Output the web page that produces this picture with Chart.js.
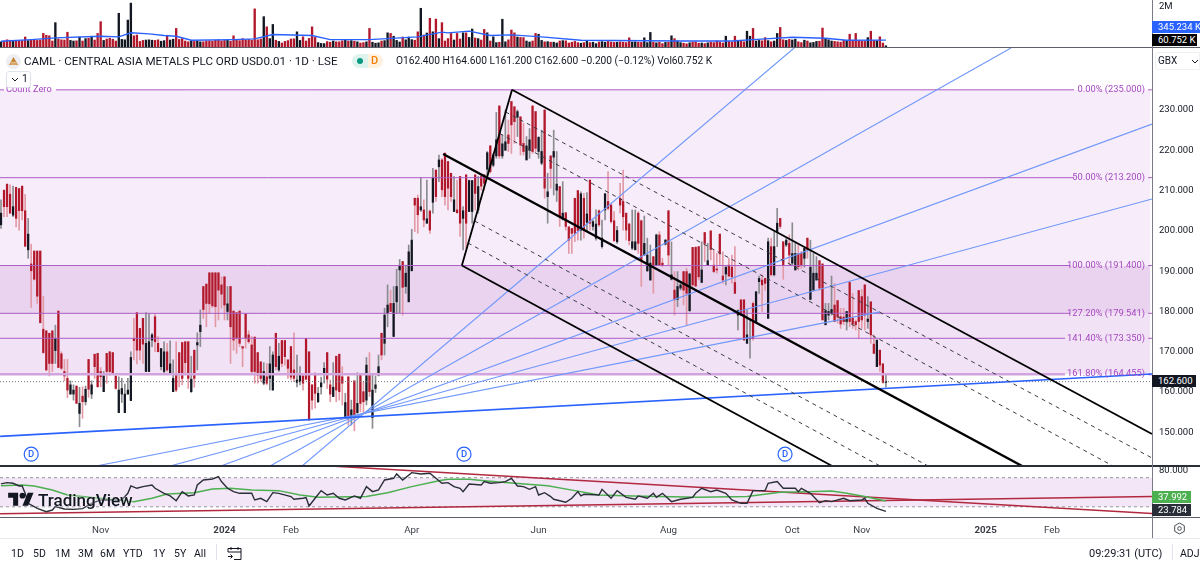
<!DOCTYPE html>
<html>
<head>
<meta charset="utf-8">
<script src="https://cdn.jsdelivr.net/npm/chart.js@4"></script>
<style>
  html, body { margin: 0; padding: 0; background: #fff; }
  #page { position: relative; width: 1200px; height: 561px; overflow: hidden; font-family: Roboto, sans-serif; color: #131722; }
  canvas { position: absolute; left: 0; }
  #volumeChart { top: 0; }
  #priceChart { top: 48px; }
  #rsiChart { top: 466px; }
  .txt { position: absolute; white-space: nowrap; line-height: 14px; }
  .rule { position: absolute; }
  .chip { position: absolute; left: 1152px; height: 12px; line-height: 12px; font-size: 9.5px; color: #fff; padding-left: 6px; box-sizing: border-box; white-space: nowrap; }
  svg { position: absolute; overflow: visible; }
</style>
</head>
<body>
<div id="page">
  <canvas id="volumeChart" width="1200" height="47"></canvas>
  <canvas id="priceChart" width="1200" height="418"></canvas>
  <canvas id="rsiChart" width="1200" height="72"></canvas>

  <div class="rule" style="left:0;top:47px;width:1200px;height:1px;background:#5d606b"></div>
  <div class="rule" style="left:0;top:465px;width:1200px;height:2px;background:#2a2e39"></div>
  <div class="rule" style="left:0;top:517px;width:1200px;height:1px;background:#5d606b"></div>
  <div class="rule" style="left:0;top:538px;width:1200px;height:1px;background:#e8e9ee"></div>
  <div class="rule" style="left:1152px;top:0;width:1px;height:538px;background:#787b86"></div>
  <div class="rule" style="left:216px;top:544px;width:1px;height:16px;background:#e0e3eb"></div>
  <div class="rule" style="left:1172px;top:544px;width:1px;height:16px;background:#e0e3eb"></div>

  <svg style="left:6px;top:54px" width="15" height="15" viewBox="0 0 15 15">
    <circle cx="7.5" cy="7.5" r="7.5" fill="#eceef2"/>
    <path d="M7.5 3 L12 11 H3 Z" fill="#c8822f"/>
    <path d="M5.2 8.4 H9.8 M4.2 10 H10.8" stroke="#f4e6d2" stroke-width="0.7"/>
  </svg>
  <div class="txt" style="left:24px;top:54px;font-size:11.6px">CAML · CENTRAL ASIA METALS PLC ORD USD0.01 · 1D · LSE</div>
  <div class="rule" style="left:352px;top:54px;width:16px;height:14px;border-radius:7px 0 0 7px;background:#dff3ee"></div>
  <div class="rule" style="left:368px;top:54px;width:15px;height:14px;border-radius:0 7px 7px 0;background:#fff1e0"></div>
  <div class="rule" style="left:357px;top:58px;width:6px;height:6px;border-radius:3px;background:#089981"></div>
  <div class="txt" style="left:371px;top:54px;font-size:11px;font-weight:500;color:#f57c00">D</div>
  <div class="txt" id="ohlcText" style="left:396px;top:54px;font-size:10.2px"></div>

  <div class="rule" style="left:6px;top:71px;width:25px;height:17px;box-sizing:border-box;border:1px solid #e0e3eb;border-radius:3px;background:#fff"></div>
  <svg style="left:11px;top:77px" width="8" height="5"><path d="M1 1 L4 4 L7 1" fill="none" stroke="#131722" stroke-width="1"/></svg>
  <div class="txt" style="left:22px;top:72px;font-size:10.5px">1</div>

  <div class="rule" style="left:1155px;top:52px;width:45px;height:18px;box-sizing:border-box;border:1px solid #eef0f3;border-radius:3px 0 0 3px"></div>
  <div class="txt" style="left:1158px;top:54px;font-size:10px">GBX</div>
  <svg style="left:1191px;top:59px" width="8" height="5"><path d="M1 1 L4 4 L7 1" fill="none" stroke="#131722" stroke-width="1"/></svg>

  <div class="chip" id="volMaChip" style="top:21px;width:48px;background:#2962ff"></div>
  <div class="chip" id="volChip" style="top:34px;width:45px;background:#000"></div>
  <div class="chip" id="closeChip" style="top:375px;width:44px;background:#131722"></div>
  <div class="chip" id="rsiMaChip" style="top:491px;width:39px;background:#4caf50"></div>
  <div class="chip" id="rsiChip" style="top:504px;width:39px;background:#2a2e39"></div>

  <svg style="left:8px;top:490px" width="26" height="20" viewBox="0 0 36 28">
    <path d="M14 22H7V11H0V4h14v18zM28 22h-8l7.5-18h8L28 22z" fill="#131722"/>
    <circle cx="20" cy="8" r="4" fill="#131722"/>
  </svg>
  <div class="txt" style="left:38px;top:491px;line-height:18px;font-size:17px;font-weight:500;text-shadow:0 0 3px #fff">TradingView</div>

  <div class="txt" style="left:11px;top:547px;font-size:10.5px">1D</div>
  <div class="txt" style="left:33px;top:547px;font-size:10.5px">5D</div>
  <div class="txt" style="left:55px;top:547px;font-size:10.5px">1M</div>
  <div class="txt" style="left:78px;top:547px;font-size:10.5px">3M</div>
  <div class="txt" style="left:100px;top:547px;font-size:10.5px">6M</div>
  <div class="txt" style="left:123px;top:547px;font-size:10.5px">YTD</div>
  <div class="txt" style="left:153px;top:547px;font-size:10.5px">1Y</div>
  <div class="txt" style="left:174px;top:547px;font-size:10.5px">5Y</div>
  <div class="txt" style="left:194px;top:547px;font-size:10.5px">All</div>
  <svg style="left:227px;top:546px" width="15" height="15" viewBox="0 0 15 15" fill="none" stroke="#131722" stroke-width="1">
    <path d="M1 6 V2.5 H14 V13.5 H7 M1 6 H14 M4 1 V4 M11 1 V4 M1 10.5 H5 M3.5 8.5 L5.5 10.5 L3.5 12.5"/>
  </svg>
  <div class="txt" style="left:1089px;top:547px;font-size:11px">09:29:31 (UTC)</div>
  <div class="txt" style="left:1180px;top:547px;font-size:10.5px">ADJ</div>
  <svg style="left:1173px;top:522px" width="13" height="13" viewBox="0 0 13 13" fill="none" stroke="#4a4d57" stroke-width="1">
    <path d="M6.5 1 L11.3 3.7 V9.3 L6.5 12 L1.7 9.3 V3.7 Z"/><circle cx="6.5" cy="6.5" r="1.8"/>
  </svg>
</div>

<script>
// CAML daily candles, one entry per trading day
const opens = [
  201.5,210.1,211.6,209.1,203.9,210.8,210.5,211.1,205.0,195.3,
  191.8,195.0,195.0,195.0,175.6,175.2,174.6,175.2,170.3,180.1,
  169.5,165.1,163.4,159.5,159.5,161.5,154.7,159.0,157.6,168.1,
  159.5,169.4,169.6,165.1,160.1,169.6,170.0,169.8,164.0,154.9,
  159.5,154.9,159.5,157.9,173.3,179.7,175.8,178.3,165.1,165.1,
  172.9,178.7,172.1,166.3,165.1,170.0,164.8,160.1,164.2,169.8,
  172.3,172.5,172.5,160.1,170.4,171.7,175.0,186.2,186.8,189.6,
  189.6,189.6,189.6,186.6,188.6,180.0,186.2,180.1,179.7,180.1,
  171.3,179.4,174.2,171.7,173.6,169.8,167.5,162.2,163.8,163.4,
  160.5,174.6,165.5,172.8,172.8,168.0,171.3,165.5,162.4,162.6,
  164.0,173.3,170.0,161.8,164.7,157.6,161.3,164.7,169.8,161.8,
  158.9,168.9,169.4,163.8,153.5,163.8,153.7,162.8,154.9,164.2,
  160.1,158.0,164.2,153.7,160.9,164.2,174.6,172.1,179.5,182.0,
  173.8,182.4,190.3,192.4,186.2,182.4,190.1,208.1,208.1,205.2,
  205.2,201.9,204.9,207.1,215.1,215.9,217.6,219.3,217.2,214.3,
  204.8,205.2,213.5,203.1,213.9,204.8,204.8,213.9,205.2,213.5,
  213.9,215.3,221.1,216.3,218.6,231.0,218.6,220.0,223.8,232.1,
  230.8,228.2,228.3,221.7,217.6,220.0,231.0,229.6,219.7,216.8,
  230.0,208.5,218.6,218.3,210.1,211.0,202.9,204.5,201.0,200.6,
  208.1,210.0,200.2,208.1,202.1,212.6,201.1,198.2,205.0,196.1,
  205.2,207.3,206.4,202.5,197.3,208.1,207.3,204.4,201.7,195.7,
  195.3,204.4,202.5,194.0,190.1,187.8,193.6,191.5,199.0,192.0,
  196.7,205.0,188.0,185.3,183.0,185.8,189.9,189.9,180.2,195.9,
  195.9,196.1,187.2,199.6,191.5,200.0,191.5,190.5,199.2,188.8,
  189.3,191.5,191.0,187.2,179.1,182.9,182.9,172.1,173.2,182.0,
  177.5,187.4,187.8,188.2,178.3,196.1,189.1,199.8,203.1,197.3,
  196.5,196.9,192.0,190.3,194.3,194.4,193.2,198.2,183.0,185.3,
  187.8,192.6,191.8,176.7,179.1,179.6,181.6,182.7,178.7,178.6,
  177.5,187.2,178.3,177.5,185.2,183.7,186.6,177.5,182.4,171.9,
  166.3,170.4,167.0,162.4
];
const highs = [
  207.7,210.1,211.6,211.4,211.1,210.8,210.5,211.1,209.1,203.1,
  196.7,195.0,195.0,195.0,183.8,175.2,174.6,175.2,176.6,180.1,
  170.0,168.1,168.1,162.8,161.8,161.5,161.2,161.3,161.5,168.1,
  162.8,169.4,169.6,166.1,165.1,169.6,170.0,169.8,164.0,163.8,
  163.4,162.0,163.4,170.0,178.3,179.7,175.8,178.3,179.7,179.5,
  174.6,179.4,173.8,170.8,172.5,172.1,172.7,168.0,172.5,169.8,
  172.3,172.5,172.5,168.9,170.4,174.7,180.4,186.2,186.8,189.6,
  189.6,189.6,189.6,188.6,188.6,186.2,186.2,180.1,179.7,180.1,
  171.3,179.4,175.2,173.8,173.8,169.8,167.5,167.3,167.1,171.3,
  170.0,174.6,172.1,172.8,172.8,168.0,171.3,174.7,169.2,166.3,
  164.2,173.3,170.0,161.8,164.7,161.2,163.7,167.3,169.8,163.0,
  167.3,168.9,169.4,166.3,159.7,163.8,158.0,162.8,164.8,164.2,
  162.6,168.6,169.8,164.2,164.0,169.2,174.6,180.8,186.6,185.3,
  186.2,190.5,192.9,192.4,191.5,196.5,200.4,208.1,208.9,213.2,
  207.7,212.6,205.2,215.5,215.1,218.8,218.0,219.3,217.2,214.3,
  213.5,212.6,213.5,206.0,213.9,212.6,212.5,213.9,213.5,213.9,
  214.0,219.7,221.1,219.2,229.4,231.0,223.8,230.0,227.5,232.1,
  230.8,230.0,228.3,226.7,223.4,225.4,231.0,229.6,223.4,225.0,
  230.0,214.3,218.6,225.0,219.7,211.0,212.2,204.5,201.0,200.6,
  208.1,210.0,209.7,209.3,209.5,212.6,202.7,205.2,205.2,202.7,
  209.3,214.7,206.8,204.8,201.1,211.8,215.1,204.4,201.9,205.2,
  205.2,204.8,202.7,203.7,198.2,196.5,193.6,199.2,199.8,193.2,
  197.9,205.0,197.3,189.9,189.9,187.4,189.9,190.7,189.5,195.9,
  196.1,196.1,197.3,199.6,196.9,200.0,195.4,194.4,199.2,194.8,
  191.1,193.2,194.0,196.1,180.4,182.9,182.9,180.4,178.1,182.4,
  184.9,188.8,189.1,188.2,198.2,198.2,199.8,205.6,203.1,197.3,
  198.2,199.0,202.0,196.9,196.9,194.9,195.7,198.2,197.7,194.4,
  193.6,192.6,191.8,182.0,182.0,188.8,187.0,182.7,180.8,180.8,
  180.0,187.4,184.5,177.9,185.2,185.5,186.6,183.7,182.4,174.2,
  172.9,170.4,167.1,164.6
];
const lows = [
  200.6,203.5,203.5,204.4,203.5,201.0,200.2,202.7,196.1,193.2,
  181.0,187.8,182.0,177.2,169.6,165.3,164.0,165.1,167.1,166.1,
  165.5,162.8,158.6,159.5,158.0,157.2,151.4,153.5,156.8,158.7,
  158.4,163.4,161.3,161.3,160.1,162.2,164.2,164.5,160.7,154.9,
  157.4,154.9,159.5,157.9,168.0,167.0,168.0,167.1,165.1,165.1,
  171.3,170.0,170.0,165.5,164.8,165.1,164.8,160.1,160.1,161.3,
  161.8,164.7,160.9,159.9,161.2,165.5,171.3,178.3,176.2,179.5,
  181.0,176.2,177.9,180.8,177.9,177.9,167.1,170.4,169.6,171.3,
  166.3,170.9,172.1,164.5,162.2,162.2,162.6,161.8,161.8,160.5,
  160.5,165.5,165.1,166.3,166.7,163.4,163.0,162.6,161.3,161.8,
  160.5,163.0,152.9,155.7,156.0,157.4,159.5,162.2,160.9,157.6,
  158.9,157.6,158.0,156.8,153.5,151.8,151.8,150.4,154.7,155.1,
  154.7,156.8,158.9,151.0,159.9,164.0,168.0,169.2,176.2,180.0,
  173.8,179.5,179.7,179.1,184.5,182.4,190.1,199.8,199.4,204.8,
  201.0,201.9,199.4,204.4,207.3,212.2,208.5,206.4,205.2,207.3,
  204.8,204.4,198.6,195.3,195.7,204.8,201.9,205.2,204.4,210.1,
  210.1,213.5,214.3,215.9,218.0,218.0,218.0,220.0,219.7,219.2,
  221.7,223.4,218.8,218.8,217.6,218.0,219.2,219.7,218.0,216.4,
  208.1,201.9,210.6,208.9,207.3,201.1,202.7,200.2,194.4,194.4,
  197.3,197.7,197.7,198.2,199.8,200.2,200.2,197.7,201.1,195.7,
  202.7,205.2,201.9,197.3,196.9,204.4,200.2,197.7,196.5,195.3,
  195.3,194.4,186.2,194.0,189.9,187.8,184.5,191.5,191.5,191.1,
  196.5,191.5,187.8,179.1,181.2,185.3,181.6,176.7,180.0,186.2,
  186.3,187.8,187.2,192.4,191.5,192.8,189.6,189.5,191.5,187.0,
  186.6,188.6,187.0,184.5,175.4,179.1,172.9,172.1,168.4,172.9,
  177.5,184.5,180.0,185.3,178.3,188.8,188.8,196.1,200.6,188.0,
  196.1,191.5,191.5,190.3,190.3,190.7,191.0,193.2,182.9,185.3,
  187.8,185.3,177.9,176.7,177.9,179.1,177.5,177.1,175.8,176.7,
  175.4,176.2,175.8,175.4,173.3,175.8,175.4,175.8,172.1,169.6,
  166.3,165.1,162.2,161.2
];
const closes = [
  204.4,206.0,206.0,204.4,206.0,203.1,205.0,205.0,196.2,199.2,
  190.1,188.0,183.8,177.2,169.8,165.5,167.1,167.1,173.3,166.1,
  165.9,164.0,160.5,161.8,160.5,157.2,157.2,157.6,160.7,160.7,
  161.8,166.3,161.3,163.8,164.0,165.1,165.1,164.5,160.9,160.5,
  160.9,159.5,160.5,168.6,172.8,170.4,170.4,171.9,172.1,172.5,
  174.2,172.5,170.0,170.8,170.0,165.5,167.0,163.4,160.5,164.5,
  163.4,167.3,163.4,163.2,163.4,172.3,176.6,180.5,182.0,181.9,
  181.4,181.2,185.3,184.3,181.6,181.9,176.2,172.9,173.3,172.1,
  170.9,173.3,172.5,165.1,165.1,164.2,163.4,165.1,162.2,167.0,
  169.2,166.3,168.9,167.1,168.8,165.9,163.7,163.4,163.0,164.5,
  162.2,163.2,153.1,158.0,159.7,159.7,162.3,165.9,163.2,159.5,
  161.2,160.5,160.1,162.2,157.4,153.5,155.6,154.3,157.2,157.2,
  157.6,166.7,160.1,160.5,161.8,166.3,169.2,179.1,181.6,180.0,
  182.0,186.2,191.3,186.0,189.5,194.8,197.7,206.4,204.0,206.0,
  202.7,203.0,200.2,213.2,208.5,217.6,210.2,208.5,210.6,208.5,
  207.7,204.5,201.9,205.0,201.9,212.5,212.5,209.3,211.0,211.1,
  211.8,219.4,214.7,218.8,222.6,218.6,221.6,222.1,221.7,226.3,
  227.1,229.6,221.3,219.7,221.1,222.6,219.7,220.5,223.2,219.7,
  210.6,209.7,215.5,219.7,211.6,203.5,204.4,201.1,197.7,199.4,
  199.4,200.1,209.2,200.4,204.2,201.9,202.3,201.7,201.5,198.2,
  209.2,205.6,202.3,197.6,200.1,206.4,203.5,200.2,197.6,197.3,
  197.3,196.9,192.8,196.9,194.0,192.0,191.5,199.0,191.5,191.5,
  197.7,194.0,189.1,182.9,186.2,186.6,185.3,184.5,189.3,186.6,
  186.3,188.6,190.3,196.9,192.6,195.4,189.9,190.3,194.3,187.8,
  191.0,188.8,188.6,184.5,180.2,179.1,172.9,174.2,173.6,173.3,
  184.9,188.2,186.6,187.0,197.3,189.1,196.1,201.9,201.1,191.5,
  197.7,194.0,194.4,194.4,191.1,191.5,195.7,195.3,191.0,189.5,
  189.5,185.8,177.9,180.2,180.0,180.5,177.5,178.6,176.9,177.5,
  180.0,177.5,176.9,176.7,177.5,177.9,179.1,178.1,174.2,169.6,
  172.9,166.7,162.4,162.6
];
// daily volume in thousands of shares
const volumes = [
  260,300,360,340,330,300,310,320,500,320,
  340,370,330,350,680,590,560,300,1220,400,
  360,350,740,330,300,310,500,300,420,440,
  540,350,680,1270,330,400,440,390,300,1690,
  380,360,1350,2200,560,600,280,330,350,360,
  340,330,360,290,320,590,350,390,930,380,
  430,300,260,320,280,300,260,260,300,310,
  290,340,360,310,330,360,290,560,380,320,
  420,360,380,340,1910,360,400,1520,1010,420,
  1130,340,280,200,280,320,400,410,760,330,
  510,300,430,1010,480,220,180,170,270,240,
  300,260,260,310,350,300,320,290,260,200,
  220,260,930,240,190,210,300,320,710,680,
  540,330,250,500,360,500,370,340,760,1940,
  600,700,1440,760,1400,420,1220,300,420,680,
  350,680,400,710,710,480,900,450,420,350,
  880,710,300,510,220,240,1390,260,360,850,
  710,500,480,470,300,250,300,680,640,330,
  260,270,240,240,200,300,320,310,200,240,
  280,220,190,220,300,220,240,170,250,270,
  240,280,250,230,240,260,240,220,460,250,
  260,240,230,460,220,730,240,210,240,170,
  230,240,560,420,300,220,190,160,210,250,
  260,190,200,170,210,240,220,300,250,200,
  540,270,250,540,290,310,260,790,540,930,
  300,330,310,470,320,260,300,680,980,360,
  330,380,350,390,260,220,340,300,210,230,
  280,290,950,400,360,300,280,260,240,330,
  310,640,340,680,300,290,280,470,790,330,
  310,510,200,60.752
];
// volume moving average, read at these bars
const volMaBars = [0,10,18,33,39,43,49,54,58,63,77,84,90,103,109,122,138,146,148,155,162,169,179,192,225,242,253,262,273,280,293];
const volMaValues = [287,372,456,541,507,710,659,575,541,338,372,406,625,575,372,372,507,744,710,794,575,608,507,338,304,304,406,490,439,338,345.234];

// RSI(14) and its moving average, read at these bars
const rsiBars = [0,2,4,6,7,8,9,12,15,17,18,21,24,27,30,33,40,42,43,45,47,50,51,54,56,58,60,62,64,65,67,70,72,73,75,77,79,83,84,86,88,90,92,96,97,100,101,102,104,106,108,110,112,114,117,119,121,123,125,127,130,131,133,136,139,142,144,146,148,150,152,153,155,159,160,162,165,167,169,171,173,175,177,178,180,182,183,187,189,191,192,193,198,199,202,204,207,210,211,214,216,217,219,222,225,229,230,232,235,237,240,242,245,247,249,253,254,257,259,263,264,265,268,271,273,275,279,281,285,286,287,290,293];
const rsiValues = [61.4,63.2,62.3,58.6,58.6,48.5,34.8,27.9,23.3,25.6,30.2,27.0,26.5,27.5,34.8,39.4,39.4,48.5,58.6,55.4,57.7,60.0,55.4,48.5,44.9,38.4,50.8,44.9,46.2,60.0,66.8,68.2,71.4,64.6,55.4,50.8,48.5,48.5,39.4,41.7,37.1,49.4,48.5,44.0,40.3,41.7,42.6,31.1,41.7,52.2,46.2,48.5,41.7,39.4,44.9,41.7,57.7,50.8,53.1,66.8,69.1,75.1,66.8,76.9,75.1,76.0,69.1,62.3,63.2,57.7,55.4,50.8,61.3,60.0,64.6,62.3,63.2,64.6,69.1,58.6,57.7,54.0,57.7,46.2,49.4,44.0,40.3,36.2,41.7,50.8,44.9,47.2,46.2,54.0,41.7,52.2,43.0,40.3,44.9,41.7,48.5,43.0,48.5,37.1,40.3,43.0,48.5,55.4,50.8,53.1,48.5,39.4,34.8,34.8,52.2,52.2,62.3,64.6,55.4,55.4,50.8,55.4,48.5,35.7,38.4,37.1,41.7,38.4,39.4,41.7,34.8,27.9,23.784];
const rsiMaBars = [0,7,11,17,22,44,50,55,64,70,76,83,92,99,105,121,128,136,145,148,155,160,170,181,190,198,209,231,247,258,267,275,280,286,293];
const rsiMaValues = [59.0,60.0,58.6,53.1,46.2,37.1,41.7,47.6,49.4,54.5,55.4,53.1,52.2,46.2,43.0,44.0,49.4,57.7,65.9,67.8,67.8,65.9,62.3,59.0,52.2,46.2,44.9,43.0,44.0,49.9,50.8,51.7,48.5,44.0,37.992];
const rsiBandLevels = [70, 30];
// RSI trend lines: startBar, startValue, endBar, endValue
const rsiTrends = [[109, 86, 381.1, 20.8], [-0.3, 20.6, 381.1, 44.3]];

// Fibonacci retracement levels
const fibLevels = [235, 213.2, 191.4, 179.541, 173.35, 164.455];
const fibNames = ["0.00%", "50.00%", "100.00%", "127.20%", "141.40%", "161.80%"];
const fibGapBars = [355.3, 355.3, 354.0, 354.0, 352.3, 352.3];

// fan rays through the March low: startBar, startPrice, endBar, endPrice
const fanRays = [
  [99.7, 141.66, 262.6, 245.38],
  [89.1, 141.66, 334.4, 245.38],
  [72.8, 141.66, 381.1, 226.5],
  [56.0, 141.66, 381.1, 207.9],
  [31.5, 141.66, 291.0, 179.9]
];
const baseTrend = [-0.3, 149.0, 381.1, 164.49];

// pitchfork: anchors and its parallels, same order of fields as the rays
const forkHandle = [152.6, 191.4, 169.2, 235];
const forkMedian = [146.4, 219.08, 338.1, 141.66];
const forkEdges = [[169.2, 235, 381.1, 149.6], [152.6, 191.4, 275.2, 141.66]];
const forkDashes = [
  [167.1, 229.5, 381.1, 143.65],
  [165.1, 224.17, 368.2, 141.66],
  [156.8, 202.46, 307.0, 141.66],
  [154.6, 197.0, 291.1, 141.66]
];

const dividendBars = [10, 153.3, 259.6];
const dividendLevel = 144.6;

const priceTicks = [150, 160, 170, 180, 190, 200, 210, 220, 230];
const timeTickBars = [33, 74, 96, 136, 178, 221, 262, 285, 326, 348];
const timeTickLabels = ["Nov", "2024", "Feb", "Apr", "Jun", "Aug", "Oct", "Nov", "2025", "Feb"];

const BAR_MIN = -0.33;
const BAR_MAX = 381.1;
const RED = "#b2182b";
const RED_WICK = "#e39aa6";
const BLACK = "#131722";
const BLACK_WICK = "#8b8c90";
const PURPLE = "#ad5cc5";
const FAN_BLUE = "#6f97fb";

Chart.defaults.font.family = "Roboto, sans-serif";
Chart.defaults.font.size = 9.5;
Chart.defaults.color = "#131722";

const isUp = i => closes[i] >= opens[i];
const barIndexes = closes.map((c, i) => i);

function segment(row, color, width, dash, order) {
    return {
        type: "line",
        data: [{ x: row[0], y: row[1] }, { x: row[2], y: row[3] }],
        borderColor: color,
        borderWidth: width,
        borderDash: dash || [],
        pointRadius: 0,
        order: order
    };
}

function series(bars, values, color, width, order) {
    return {
        type: "line",
        data: bars.map((b, i) => ({ x: b, y: values[i] })),
        borderColor: color,
        borderWidth: width,
        pointRadius: 0,
        tension: 0,
        order: order
    };
}

function band(top, bottom, color) {
    return {
        type: "line",
        data: [{ x: BAR_MIN, y: top }, { x: BAR_MAX - 0.5, y: top }],
        borderWidth: 0,
        pointRadius: 0,
        backgroundColor: color,
        fill: { value: bottom },
        order: 100
    };
}

// right hand axis, fixed width so all three panes line up
function rightAxis(min, max, tickValues, format) {
    return {
        position: "right",
        min: min,
        max: max,
        grid: { display: false, drawTicks: false },
        border: { display: false },
        afterBuildTicks: scale => { scale.ticks = tickValues.map(v => ({ value: v })); },
        afterFit: scale => {
            scale.width = 48;
            scale.paddingTop = 0;
            scale.paddingBottom = 0;
        },
        ticks: { padding: 7, color: "#131722", callback: format }
    };
}

function hiddenBarAxis() {
    return { type: "linear", display: false, offset: false, min: BAR_MIN, max: BAR_MAX };
}

function baseOptions(scales) {
    return {
        responsive: false,
        animation: false,
        events: [],
        devicePixelRatio: 1,
        layout: { padding: 0, autoPadding: false },
        plugins: { legend: { display: false }, tooltip: { enabled: false } },
        scales: scales
    };
}

// volume pane
new Chart(document.getElementById("volumeChart"), {
    data: {
        datasets: [
            {
                type: "bar",
                data: barIndexes.map(i => ({ x: i, y: volumes[i] })),
                backgroundColor: barIndexes.map(i => isUp(i) ? BLACK : RED),
                barThickness: 1.7,
                order: 5
            },
            series(volMaBars, volMaValues, "#2962ff", 1.4, 1)
        ]
    },
    options: baseOptions({
        x: hiddenBarAxis(),
        y: rightAxis(0, 2355, [2000], v => (v / 1000) + "M")
    })
});

// fib labels and dividend letters sit on top of the price datasets
const priceLabels = {
    id: "priceLabels",
    afterDatasetsDraw(chart) {
        const ctx = chart.ctx;
        const y = chart.scales.y;
        const x = chart.scales.x;
        ctx.save();
        ctx.textBaseline = "middle";
        ctx.font = "9.3px Roboto, sans-serif";
        ctx.fillStyle = "#a548c0";
        ctx.textAlign = "right";
        fibLevels.forEach((level, i) => {
            ctx.fillText(fibNames[i] + " (" + level.toFixed(3) + ")", chart.chartArea.right - 7, y.getPixelForValue(level));
        });
        ctx.textAlign = "left";
        ctx.fillText("Count Zero", 6, y.getPixelForValue(fibLevels[0]));
        ctx.fillStyle = "#2962ff";
        ctx.textAlign = "center";
        ctx.font = "500 9.5px Roboto, sans-serif";
        dividendBars.forEach(b => {
            ctx.fillText("D", x.getPixelForValue(b), y.getPixelForValue(dividendLevel) + 0.5);
        });
        ctx.restore();
    }
};

function fibLine(level, i) {
    const gapEnd = 379.8;
    const start = i === 0 ? [{ x: BAR_MIN, y: level }, { x: 1, y: level }, { x: 1.5, y: null }, { x: 18.2, y: level }] : [{ x: BAR_MIN, y: level }];
    const soft = i === fibLevels.length - 1;
    return {
        type: "line",
        data: start.concat([{ x: fibGapBars[i], y: level }, { x: fibGapBars[i] + 0.5, y: null }, { x: gapEnd, y: level }, { x: BAR_MAX, y: level }]),
        borderColor: soft ? "#d2a4de" : PURPLE,
        borderWidth: soft ? 2.5 : 1,
        pointRadius: 0,
        spanGaps: false,
        order: 20
    };
}

// price pane
new Chart(document.getElementById("priceChart"), {
    data: {
        datasets: [
            band(fibLevels[0], fibLevels[2], "#f7edfa"),
            band(fibLevels[2], fibLevels[3], "#e9d3ef"),
            band(fibLevels[3], fibLevels[5], "#f1e2f5"),
            {
                type: "bar",
                data: barIndexes.map(i => ({ x: i, y: [lows[i], highs[i]] })),
                backgroundColor: barIndexes.map(i => isUp(i) ? BLACK_WICK : RED_WICK),
                barThickness: 1,
                grouped: false,
                order: 60
            },
            {
                type: "bar",
                data: barIndexes.map(i => ({ x: i, y: [opens[i], closes[i]] })),
                backgroundColor: barIndexes.map(i => isUp(i) ? BLACK : RED),
                barThickness: 1.6,
                grouped: false,
                minBarLength: 1,
                order: 50
            },
            ...fibLevels.map(fibLine),
            segment([BAR_MIN, closes[closes.length - 1], BAR_MAX, closes[closes.length - 1]], "#6f7280", 1, [1, 2], 18),
            ...fanRays.map(r => segment(r, FAN_BLUE, 1.1, [], 10)),
            segment(baseTrend, "#2962ff", 1.6, [], 9),
            ...forkDashes.map(r => segment(r, "#3a3d46", 1, [4, 4], 8)),
            ...forkEdges.map(r => segment(r, "#000000", 1.8, [], 7)),
            segment(forkMedian, "#000000", 2.4, [], 6),
            segment(forkHandle, "#000000", 1.8, [], 6),
            {
                type: "scatter",
                data: dividendBars.map(b => ({ x: b, y: dividendLevel })),
                pointStyle: "circle",
                pointRadius: 7,
                pointBackgroundColor: "#ffffff",
                pointBorderColor: "#2962ff",
                pointBorderWidth: 1.2,
                order: 1
            }
        ]
    },
    options: baseOptions({
        x: hiddenBarAxis(),
        y: rightAxis(141.66, 245.38, priceTicks, v => v.toFixed(3))
    }),
    plugins: [priceLabels]
});

// RSI pane, its x axis carries the shared date labels
new Chart(document.getElementById("rsiChart"), {
    data: {
        datasets: [
            {
                type: "line",
                data: [{ x: BAR_MIN, y: rsiBandLevels[0] }, { x: BAR_MAX, y: rsiBandLevels[0] }],
                borderColor: "#9598a1",
                borderWidth: 1,
                borderDash: [3, 3],
                pointRadius: 0,
                backgroundColor: "#f3e6f6",
                fill: { value: rsiBandLevels[1] },
                order: 40
            },
            segment([BAR_MIN, rsiBandLevels[1], BAR_MAX, rsiBandLevels[1]], "#9598a1", 1, [3, 3], 39),
            ...rsiTrends.map(r => segment(r, "#b2283f", 1.5, [], 30)),
            series(rsiMaBars, rsiMaValues, "#4caf50", 1.5, 20),
            series(rsiBars, rsiValues, "#2a2e39", 1.4, 10)
        ]
    },
    options: baseOptions({
        x: {
            type: "linear",
            min: BAR_MIN,
            max: BAR_MAX,
            grid: { display: false, drawTicks: false },
            border: { display: false },
            afterBuildTicks: scale => { scale.ticks = timeTickBars.map(v => ({ value: v })); },
            afterFit: scale => {
                scale.height = 21;
                scale.paddingLeft = 0;
                scale.paddingRight = 0;
            },
            ticks: {
                autoSkip: false,
                maxRotation: 0,
                padding: 8,
                color: "#3a3d46",
                font: c => ({ size: 9.75, weight: timeTickBars[c.index] === 74 || timeTickBars[c.index] === 326 ? "bold" : "normal" }),
                callback: (v, i) => timeTickLabels[i]
            }
        },
        y: rightAxis(16, 86, [80], v => v.toFixed(3))
    })
});

const last = closes.length - 1;
document.getElementById("volMaChip").textContent = volMaValues[volMaValues.length - 1].toFixed(3) + " K";
document.getElementById("volChip").textContent = volumes[last].toFixed(3) + " K";
document.getElementById("closeChip").textContent = closes[last].toFixed(3);
document.getElementById("rsiMaChip").textContent = rsiMaValues[rsiMaValues.length - 1].toFixed(3);
document.getElementById("rsiChip").textContent = rsiValues[rsiValues.length - 1].toFixed(3);
document.getElementById("ohlcText").textContent =
    "O" + opens[last].toFixed(3) + " H" + highs[last].toFixed(3) + " L" + lows[last].toFixed(3) + " C" + closes[last].toFixed(3) +
    " −0.200 (−0.12%) Vol" + volumes[last].toFixed(3) + " K";
</script>
</body>
</html>
